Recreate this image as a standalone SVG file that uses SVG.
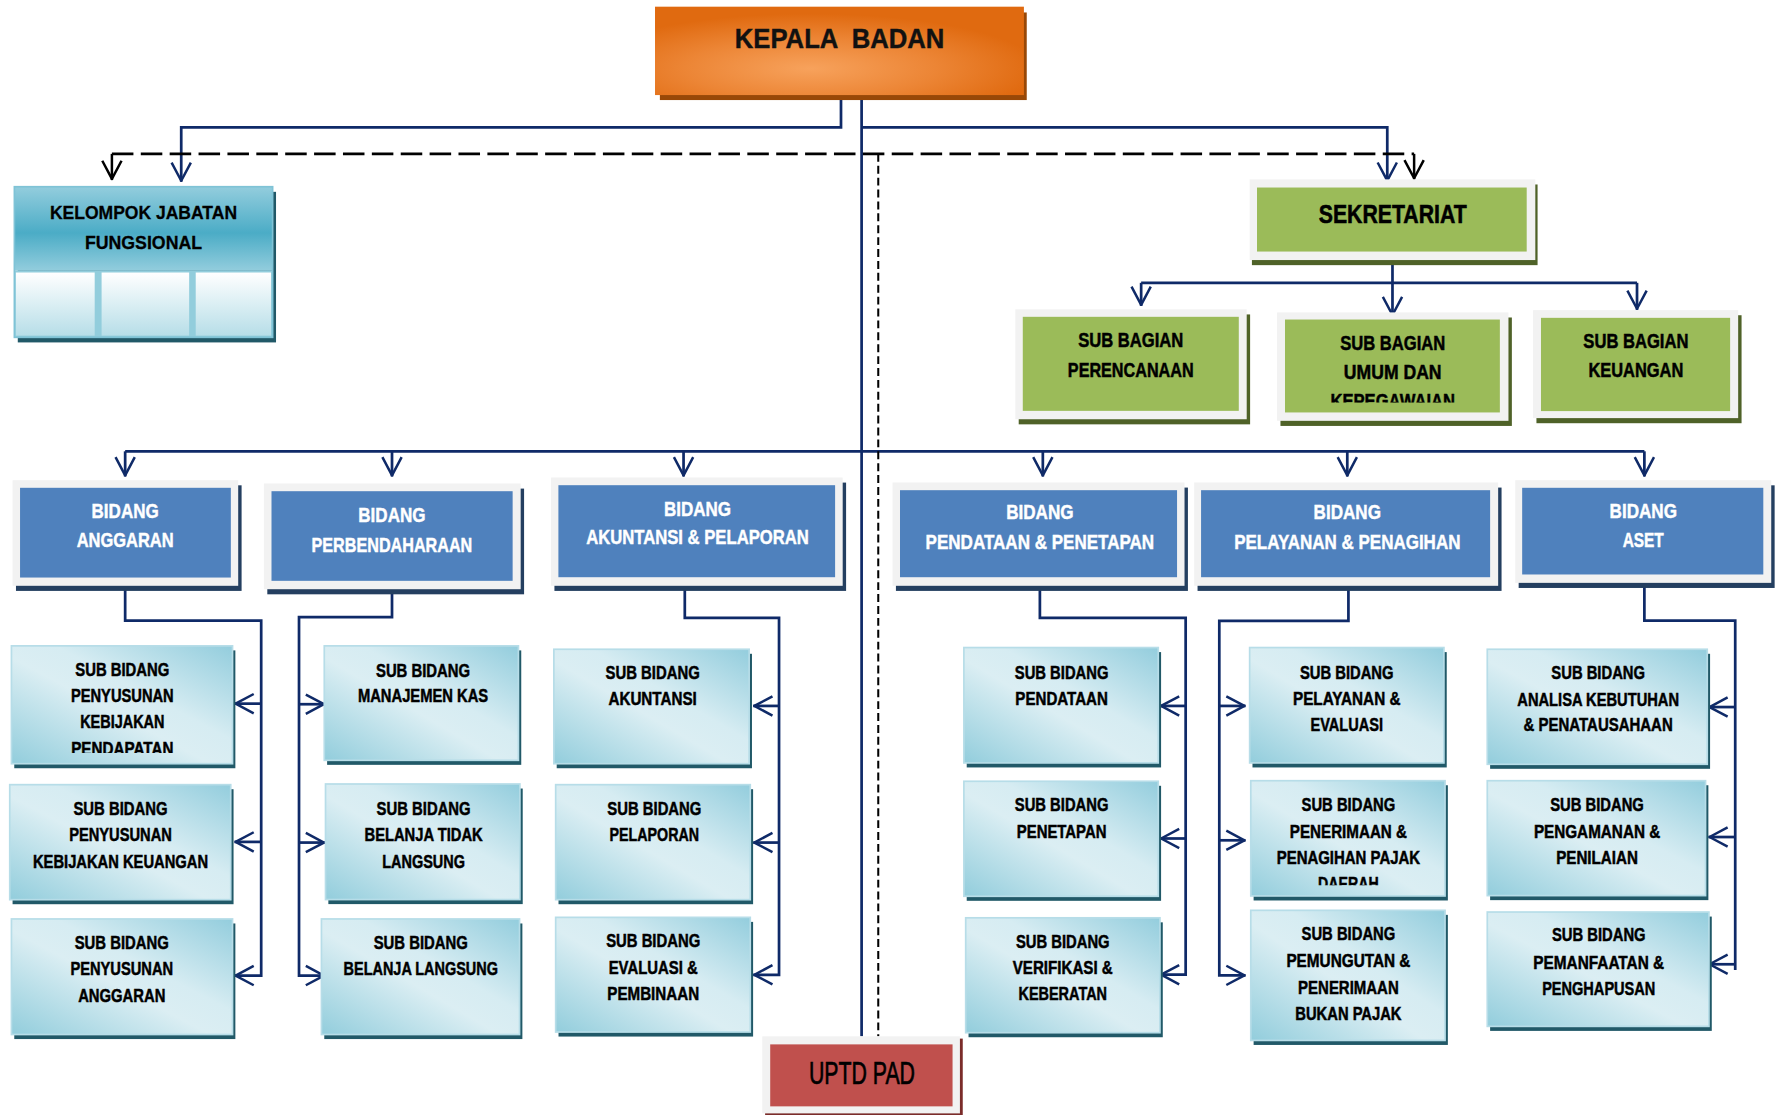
<svg xmlns="http://www.w3.org/2000/svg" width="1776" height="1115" viewBox="0 0 1776 1115">
<style>
.t{font-family:"Liberation Sans",Arial,sans-serif;font-weight:bold;text-anchor:middle;}
.sbt{font-size:16.5px;fill:#000;stroke:#000;stroke-width:0.45px;}
.bdt{font-size:18.4px;fill:#fff;stroke:#fff;stroke-width:0.4px;}
.sgt{font-size:18.4px;fill:#000;stroke:#000;stroke-width:0.45px;}
.cn{fill:none;stroke:#0f2a68;stroke-width:2.4;}
.ar{marker-end:url(#arrN);}
.ak{fill:none;stroke:#000;stroke-width:2.2;marker-end:url(#arrK);}
.dash{fill:none;stroke:#000;stroke-width:2.4;stroke-dasharray:19 6.5;}
.dash2{fill:none;stroke:#000;stroke-width:1.8;stroke-dasharray:7 3.5;}
.sub{fill:url(#subGrad);stroke:#b7dde8;stroke-width:1.5;}
.subsh{fill:#215968;}
.frame{fill:#f2f2f2;}
.bsh{fill:#243f60;}
.blue{fill:#4f81bd;}
.gsh{fill:#4f6228;}
.green{fill:#9bbb59;}
</style>
<defs>
<marker id="arrN" viewBox="-20 -10 22 20" refX="0" refY="0" markerWidth="22" markerHeight="20" markerUnits="userSpaceOnUse" orient="auto">
<path d="M-17,-8.5 L-1,0 L-17,8.5" fill="none" stroke="#0f2a68" stroke-width="2.2" stroke-linejoin="round"/>
</marker>
<marker id="arrK" viewBox="-20 -10 22 20" refX="0" refY="0" markerWidth="22" markerHeight="20" markerUnits="userSpaceOnUse" orient="auto">
<path d="M-17,-8.5 L-1,0 L-17,8.5" fill="none" stroke="#000" stroke-width="2.2" stroke-linejoin="round"/>
</marker>
<linearGradient id="subGrad" x1="0" y1="1" x2="1" y2="0">
<stop offset="0" stop-color="#92cddc"/>
<stop offset="0.45" stop-color="#dbeef3"/>
<stop offset="0.6" stop-color="#d6ecf2"/>
<stop offset="1" stop-color="#93cddd"/>
</linearGradient>
<radialGradient id="orangeGrad" cx="0.42" cy="0.7" r="0.62">
<stop offset="0" stop-color="#f7a25c"/>
<stop offset="0.55" stop-color="#ec8535"/>
<stop offset="1" stop-color="#e06a10"/>
</radialGradient>
<linearGradient id="kjfHead" x1="0" y1="0" x2="0" y2="1">
<stop offset="0" stop-color="#93cddd"/>
<stop offset="0.55" stop-color="#4bacc6"/>
<stop offset="1" stop-color="#93cddd"/>
</linearGradient>
<linearGradient id="cellGrad" x1="0" y1="0" x2="0" y2="1">
<stop offset="0" stop-color="#ffffff"/>
<stop offset="1" stop-color="#b7dee8"/>
</linearGradient>
<clipPath id="clipPendapatan"><rect x="5" y="560" width="205" height="104.5"/></clipPath>
<clipPath id="clipKepeg"><rect x="1130" y="280" width="200" height="75.2"/></clipPath>
<clipPath id="clipDaerah"><rect x="1100" y="680" width="180" height="101.3"/></clipPath>
</defs>
<rect x="0" y="0" width="1776" height="1115" fill="#ffffff"/>
<g transform="scale(1.13265 1.1331)">

<g id="connectors">
<path class="cn ar" d="M742.5,84 V112.5 H160 V160.5"/>
<path class="cn" d="M760.7,84 V914.6"/>
<path class="cn ar" d="M760.7,112.5 H1224.8 V160.4"/>
<path class="cn" d="M110.5,398.3 H1451.8"/>
<path class="cn ar" d="M110.5,398.3 V420.5"/>
<path class="cn ar" d="M346.1,398.3 V420.5"/>
<path class="cn ar" d="M603.5,398.3 V420.5"/>
<path class="cn ar" d="M920.7,398.3 V420.5"/>
<path class="cn ar" d="M1189.5,398.3 V420.5"/>
<path class="cn ar" d="M1451.8,398.3 V420.5"/>
<path class="cn ar" d="M1229.4,229.5 V279"/>
<path class="cn" d="M1007.5,249.6 H1445.3"/>
<path class="cn ar" d="M1007.5,249.6 V270"/>
<path class="cn ar" d="M1445.3,249.6 V273.5"/>
<path class="cn ar" d="M110.5,517 V547.7 H230.6 V861 H207"/>
<path class="cn ar" d="M230.6,621 H207"/>
<path class="cn ar" d="M230.6,743 H207"/>
<path class="cn ar" d="M346.1,520 V544.7 H264 V861 H287"/>
<path class="cn ar" d="M264,621.5 H287"/>
<path class="cn ar" d="M264,743.6 H287"/>
<path class="cn ar" d="M604.6,517 V545.3 H687.8 V860.3 H665"/>
<path class="cn ar" d="M687.8,623 H665"/>
<path class="cn ar" d="M687.8,743.6 H665"/>
<path class="cn ar" d="M918.1,517 V545.3 H1046.8 V860.2 H1024.1"/>
<path class="cn ar" d="M1046.8,623 H1024.1"/>
<path class="cn ar" d="M1046.8,740 H1024.1"/>
<path class="cn ar" d="M1190.5,517 V548 H1076.5 V860.8 H1099.7"/>
<path class="cn ar" d="M1076.5,623 H1099.7"/>
<path class="cn ar" d="M1076.5,741.6 H1099.7"/>
<path class="cn" d="M1451.8,514.4 V547.7 H1532 V856"/>
<path class="cn ar" d="M1532,624 H1508.3"/>
<path class="cn ar" d="M1532,738.7 H1508.3"/>
<path class="cn ar" d="M1532,851 H1508.3"/>
<path class="dash" d="M98.8,135.8 H1248.5"/>
<path class="ak" d="M98.8,135.8 V158.9"/>
<path class="ak" d="M1248.5,135.8 V158.3"/>
<path class="dash2" d="M775.4,135.8 V914.6"/>
</g>

<g id="kepala-badan">
<rect x="582.6" y="11" width="323.9" height="77.3" fill="#984807"/>
<rect x="578.3" y="5.9" width="325.7" height="78" fill="url(#orangeGrad)"/>
<text class="t" x="741.2" y="42.6" font-size="24.7" fill="#111" stroke="#111" stroke-width="0.4" textLength="185" lengthAdjust="spacingAndGlyphs" xml:space="preserve">KEPALA  BADAN</text>
</g>

<g id="kelompok-jabatan-fungsional">
<rect x="15.7" y="169.3" width="228" height="132.9" fill="#215968"/>
<rect x="12.7" y="164.8" width="228" height="74.2" fill="url(#kjfHead)"/>
<rect x="12.7" y="239" width="228" height="58.7" fill="#92cddc"/>
<rect x="14" y="240.5" width="69.6" height="55.7" fill="url(#cellGrad)"/>
<rect x="89.7" y="240.5" width="77.3" height="55.7" fill="url(#cellGrad)"/>
<rect x="172.8" y="240.5" width="66.5" height="55.7" fill="url(#cellGrad)"/>
<rect x="12.7" y="164.8" width="228" height="132.9" fill="none" stroke="#7fc3d6" stroke-width="1.5"/>
<text class="t" x="126.7" y="193.4" font-size="16.5" fill="#000" stroke="#000" stroke-width="0.25" textLength="165.2" lengthAdjust="spacingAndGlyphs">KELOMPOK JABATAN</text>
<text class="t" x="126.7" y="219.8" font-size="16.5" fill="#000" stroke="#000" stroke-width="0.25" textLength="103.4" lengthAdjust="spacingAndGlyphs">FUNGSIONAL</text>
</g>

<g id="sekretariat">
<rect class="gsh" x="1105.3" y="162.8" width="252.2" height="71.2"/>
<rect class="frame" x="1103.3" y="158.3" width="252.2" height="71.2"/>
<rect class="green" x="1109.8" y="165.5" width="238.1" height="56.5"/>
<text class="t" x="1229.6" y="196.5" font-size="23" fill="#000" stroke="#000" stroke-width="0.5" textLength="130.6" lengthAdjust="spacingAndGlyphs">SEKRETARIAT</text>
</g>

<g id="sub-bagian-perencanaan">
<rect class="gsh" x="899.4" y="277.5" width="204.3" height="97"/>
<rect class="frame" x="896.4" y="273" width="204.3" height="97"/>
<rect class="green" x="903" y="279.6" width="190.7" height="83"/>
<text class="t sgt" x="998.3" y="306.2" textLength="92.8" lengthAdjust="spacingAndGlyphs">SUB BAGIAN</text>
<text class="t sgt" x="998.3" y="332.4" textLength="111" lengthAdjust="spacingAndGlyphs">PERENCANAAN</text>
</g>

<g id="sub-bagian-umum-kepegawaian">
<rect class="gsh" x="1130.5" y="280.2" width="204.3" height="95.7"/>
<rect class="frame" x="1127.5" y="275.7" width="204.3" height="95.7"/>
<rect class="green" x="1134.5" y="282" width="189.7" height="82"/>
<text class="t sgt" x="1229.6" y="308.8" textLength="92.8" lengthAdjust="spacingAndGlyphs">SUB BAGIAN</text>
<text class="t sgt" x="1229.6" y="334.1" textLength="86.3" lengthAdjust="spacingAndGlyphs">UMUM DAN</text>
<text class="t sgt" x="1229.6" y="360.5" textLength="110" lengthAdjust="spacingAndGlyphs" clip-path="url(#clipKepeg)">KEPEGAWAIAN</text>
</g>

<g id="sub-bagian-keuangan">
<rect class="gsh" x="1356.5" y="278.2" width="181.1" height="95.3"/>
<rect class="frame" x="1353.5" y="273.7" width="181.1" height="95.3"/>
<rect class="green" x="1360.5" y="280.5" width="167" height="82.3"/>
<text class="t sgt" x="1444.3" y="306.8" textLength="92.8" lengthAdjust="spacingAndGlyphs">SUB BAGIAN</text>
<text class="t sgt" x="1444.3" y="332.6" textLength="83.7" lengthAdjust="spacingAndGlyphs">KEUANGAN</text>
</g>

<g id="bidang-anggaran">
<rect class="bsh" x="14.1" y="428.3" width="199.2" height="93.2"/>
<rect class="frame" x="11.1" y="423.8" width="199.2" height="93.2"/>
<rect class="blue" x="17.7" y="430.5" width="186.1" height="79.2"/>
<text class="t bdt" x="110.5" y="457.6" textLength="59.3" lengthAdjust="spacingAndGlyphs">BIDANG</text>
<text class="t bdt" x="110.5" y="482.6" textLength="85.6" lengthAdjust="spacingAndGlyphs">ANGGARAN</text>
</g>

<g id="bidang-perbendaharaan">
<rect class="bsh" x="236" y="431.2" width="226.7" height="93.3"/>
<rect class="frame" x="233" y="426.7" width="226.7" height="93.3"/>
<rect class="blue" x="239.7" y="433.5" width="212.9" height="79.1"/>
<text class="t bdt" x="346" y="460.4" textLength="59.3" lengthAdjust="spacingAndGlyphs">BIDANG</text>
<text class="t bdt" x="346" y="486.9" textLength="141.9" lengthAdjust="spacingAndGlyphs">PERBENDAHARAAN</text>
</g>

<g id="bidang-akuntansi-pelaporan">
<rect class="bsh" x="489.5" y="425.9" width="257.5" height="95.6"/>
<rect class="frame" x="486.5" y="421.4" width="257.5" height="95.6"/>
<rect class="blue" x="493" y="428.2" width="244.3" height="81.2"/>
<text class="t bdt" x="615.8" y="455.1" textLength="59.3" lengthAdjust="spacingAndGlyphs">BIDANG</text>
<text class="t bdt" x="615.8" y="480.4" textLength="196.6" lengthAdjust="spacingAndGlyphs">AKUNTANSI &amp; PELAPORAN</text>
</g>

<g id="bidang-pendataan-penetapan">
<rect class="bsh" x="791" y="430.3" width="257.8" height="91.2"/>
<rect class="frame" x="788" y="425.8" width="257.8" height="91.2"/>
<rect class="blue" x="794.6" y="432.6" width="244.6" height="76.8"/>
<text class="t bdt" x="918.1" y="458.3" textLength="59.5" lengthAdjust="spacingAndGlyphs">BIDANG</text>
<text class="t bdt" x="918.1" y="484.8" textLength="201.8" lengthAdjust="spacingAndGlyphs">PENDATAAN &amp; PENETAPAN</text>
</g>

<g id="bidang-pelayanan-penagihan">
<rect class="bsh" x="1057.3" y="430.3" width="268.4" height="91.2"/>
<rect class="frame" x="1054.3" y="425.8" width="268.4" height="91.2"/>
<rect class="blue" x="1060.4" y="432.6" width="255.2" height="76.8"/>
<text class="t bdt" x="1189.5" y="458.3" textLength="59.5" lengthAdjust="spacingAndGlyphs">BIDANG</text>
<text class="t bdt" x="1189.5" y="484.8" textLength="199.8" lengthAdjust="spacingAndGlyphs">PELAYANAN &amp; PENAGIHAN</text>
</g>

<g id="bidang-aset">
<rect class="bsh" x="1340.8" y="428.3" width="226" height="90.6"/>
<rect class="frame" x="1337.8" y="423.8" width="226" height="90.6"/>
<rect class="blue" x="1343.9" y="430.5" width="212.9" height="76.5"/>
<text class="t bdt" x="1450.8" y="456.9" textLength="59.5" lengthAdjust="spacingAndGlyphs">BIDANG</text>
<text class="t bdt" x="1450.8" y="482.8" textLength="36.3" lengthAdjust="spacingAndGlyphs">ASET</text>
</g>

<g id="sb-penyusunan-kebijakan-pendapatan">
<rect class="subsh" x="12.6" y="574" width="195.2" height="104"/>
<rect class="sub" x="10.1" y="570" width="195.2" height="104"/>
<text class="t sbt" x="108" y="596.9" textLength="83.1" lengthAdjust="spacingAndGlyphs">SUB BIDANG</text>
<text class="t sbt" x="108" y="619.9" textLength="90.7" lengthAdjust="spacingAndGlyphs">PENYUSUNAN</text>
<text class="t sbt" x="108" y="642.9" textLength="74.5" lengthAdjust="spacingAndGlyphs">KEBIJAKAN</text>
<text class="t sbt" x="108" y="665.9" textLength="90.2" lengthAdjust="spacingAndGlyphs" clip-path="url(#clipPendapatan)">PENDAPATAN</text>
</g>

<g id="sb-penyusunan-kebijakan-keuangan">
<rect class="subsh" x="11.1" y="696.5" width="195.1" height="101.5"/>
<rect class="sub" x="8.6" y="692.5" width="195.1" height="101.5"/>
<text class="t sbt" x="106.4" y="718.9" textLength="83.1" lengthAdjust="spacingAndGlyphs">SUB BIDANG</text>
<text class="t sbt" x="106.4" y="742.5" textLength="90.7" lengthAdjust="spacingAndGlyphs">PENYUSUNAN</text>
<text class="t sbt" x="106.4" y="765.9" textLength="154.6" lengthAdjust="spacingAndGlyphs">KEBIJAKAN KEUANGAN</text>
</g>

<g id="sb-penyusunan-anggaran">
<rect class="subsh" x="12.6" y="815" width="195.2" height="102"/>
<rect class="sub" x="10.1" y="811" width="195.2" height="102"/>
<text class="t sbt" x="107.5" y="837.9" textLength="83.1" lengthAdjust="spacingAndGlyphs">SUB BIDANG</text>
<text class="t sbt" x="107.5" y="860.9" textLength="90.7" lengthAdjust="spacingAndGlyphs">PENYUSUNAN</text>
<text class="t sbt" x="107.5" y="883.9" textLength="77" lengthAdjust="spacingAndGlyphs">ANGGARAN</text>
</g>

<g id="sb-manajemen-kas">
<rect class="subsh" x="288.8" y="574" width="171.4" height="101"/>
<rect class="sub" x="286.3" y="570" width="171.4" height="101"/>
<text class="t sbt" x="373.5" y="597.4" textLength="83.1" lengthAdjust="spacingAndGlyphs">SUB BIDANG</text>
<text class="t sbt" x="373.5" y="619.9" textLength="115" lengthAdjust="spacingAndGlyphs">MANAJEMEN KAS</text>
</g>

<g id="sb-belanja-tidak-langsung">
<rect class="subsh" x="289.9" y="695.9" width="171.6" height="102"/>
<rect class="sub" x="287.4" y="691.9" width="171.6" height="102"/>
<text class="t sbt" x="374" y="718.9" textLength="83.1" lengthAdjust="spacingAndGlyphs">SUB BIDANG</text>
<text class="t sbt" x="374" y="741.9" textLength="104.4" lengthAdjust="spacingAndGlyphs">BELANJA TIDAK</text>
<text class="t sbt" x="374" y="765.9" textLength="73" lengthAdjust="spacingAndGlyphs">LANGSUNG</text>
</g>

<g id="sb-belanja-langsung">
<rect class="subsh" x="286.3" y="815" width="174.9" height="102"/>
<rect class="sub" x="283.8" y="811" width="174.9" height="102"/>
<text class="t sbt" x="371.5" y="837.9" textLength="83.1" lengthAdjust="spacingAndGlyphs">SUB BIDANG</text>
<text class="t sbt" x="371.5" y="860.9" textLength="136.3" lengthAdjust="spacingAndGlyphs">BELANJA LANGSUNG</text>
</g>

<g id="sb-akuntansi">
<rect class="subsh" x="491.5" y="577" width="172.4" height="101"/>
<rect class="sub" x="489" y="573" width="172.4" height="101"/>
<text class="t sbt" x="576.2" y="599.5" textLength="83.1" lengthAdjust="spacingAndGlyphs">SUB BIDANG</text>
<text class="t sbt" x="576.2" y="622.4" textLength="78" lengthAdjust="spacingAndGlyphs">AKUNTANSI</text>
</g>

<g id="sb-pelaporan">
<rect class="subsh" x="493.1" y="696.5" width="171.8" height="101.5"/>
<rect class="sub" x="490.6" y="692.5" width="171.8" height="101.5"/>
<text class="t sbt" x="577.7" y="718.9" textLength="83.1" lengthAdjust="spacingAndGlyphs">SUB BIDANG</text>
<text class="t sbt" x="577.7" y="742.5" textLength="79" lengthAdjust="spacingAndGlyphs">PELAPORAN</text>
</g>

<g id="sb-evaluasi-pembinaan">
<rect class="subsh" x="493.1" y="813.6" width="171.8" height="101.2"/>
<rect class="sub" x="490.6" y="809.6" width="171.8" height="101.2"/>
<text class="t sbt" x="576.7" y="835.8" textLength="83.1" lengthAdjust="spacingAndGlyphs">SUB BIDANG</text>
<text class="t sbt" x="576.7" y="859.3" textLength="78.6" lengthAdjust="spacingAndGlyphs">EVALUASI &amp;</text>
<text class="t sbt" x="576.7" y="882.9" textLength="81.1" lengthAdjust="spacingAndGlyphs">PEMBINAAN</text>
</g>

<g id="sb-pendataan">
<rect class="subsh" x="853.5" y="575.5" width="171.6" height="101.8"/>
<rect class="sub" x="851" y="571.5" width="171.6" height="101.8"/>
<text class="t sbt" x="937.3" y="598.9" textLength="82.7" lengthAdjust="spacingAndGlyphs">SUB BIDANG</text>
<text class="t sbt" x="937.3" y="621.9" textLength="81.7" lengthAdjust="spacingAndGlyphs">PENDATAAN</text>
</g>

<g id="sb-penetapan">
<rect class="subsh" x="853.5" y="693.5" width="171.6" height="101.5"/>
<rect class="sub" x="851" y="689.5" width="171.6" height="101.5"/>
<text class="t sbt" x="937.3" y="715.9" textLength="82.7" lengthAdjust="spacingAndGlyphs">SUB BIDANG</text>
<text class="t sbt" x="937.3" y="739.3" textLength="79.2" lengthAdjust="spacingAndGlyphs">PENETAPAN</text>
</g>

<g id="sb-verifikasi-keberatan">
<rect class="subsh" x="855.1" y="814" width="171.5" height="101.4"/>
<rect class="sub" x="852.6" y="810" width="171.5" height="101.4"/>
<text class="t sbt" x="938.3" y="836.4" textLength="82.7" lengthAdjust="spacingAndGlyphs">SUB BIDANG</text>
<text class="t sbt" x="938.3" y="859.3" textLength="88.3" lengthAdjust="spacingAndGlyphs">VERIFIKASI &amp;</text>
<text class="t sbt" x="938.3" y="882.9" textLength="78.2" lengthAdjust="spacingAndGlyphs">KEBERATAN</text>
</g>

<g id="sb-pelayanan-evaluasi">
<rect class="subsh" x="1105.8" y="575.5" width="171.5" height="101.8"/>
<rect class="sub" x="1103.3" y="571.5" width="171.5" height="101.8"/>
<text class="t sbt" x="1189" y="598.9" textLength="82.7" lengthAdjust="spacingAndGlyphs">SUB BIDANG</text>
<text class="t sbt" x="1189" y="621.9" textLength="94.8" lengthAdjust="spacingAndGlyphs">PELAYANAN &amp;</text>
<text class="t sbt" x="1189" y="644.9" textLength="64" lengthAdjust="spacingAndGlyphs">EVALUASI</text>
</g>

<g id="sb-penerimaan-penagihan-pajak-daerah">
<rect class="subsh" x="1106.8" y="693" width="171.5" height="101.7"/>
<rect class="sub" x="1104.3" y="689" width="171.5" height="101.7"/>
<text class="t sbt" x="1190.5" y="715.9" textLength="82.7" lengthAdjust="spacingAndGlyphs">SUB BIDANG</text>
<text class="t sbt" x="1190.5" y="739.3" textLength="103.4" lengthAdjust="spacingAndGlyphs">PENERIMAAN &amp;</text>
<text class="t sbt" x="1190.5" y="762.2" textLength="126.6" lengthAdjust="spacingAndGlyphs">PENAGIHAN PAJAK</text>
<text class="t sbt" x="1190.5" y="785.8" textLength="53.5" lengthAdjust="spacingAndGlyphs" clip-path="url(#clipDaerah)">DAERAH</text>
</g>

<g id="sb-pemungutan-penerimaan-bukan-pajak">
<rect class="subsh" x="1106.8" y="807.4" width="171.5" height="114.8"/>
<rect class="sub" x="1104.3" y="803.4" width="171.5" height="114.8"/>
<text class="t sbt" x="1190.5" y="829.9" textLength="82.7" lengthAdjust="spacingAndGlyphs">SUB BIDANG</text>
<text class="t sbt" x="1190.5" y="853.5" textLength="109.5" lengthAdjust="spacingAndGlyphs">PEMUNGUTAN &amp;</text>
<text class="t sbt" x="1190.5" y="876.9" textLength="88.8" lengthAdjust="spacingAndGlyphs">PENERIMAAN</text>
<text class="t sbt" x="1190.5" y="899.9" textLength="93.8" lengthAdjust="spacingAndGlyphs">BUKAN PAJAK</text>
</g>

<g id="sb-analisa-kebutuhan">
<rect class="subsh" x="1315.6" y="577" width="194.2" height="101.5"/>
<rect class="sub" x="1313.1" y="573" width="194.2" height="101.5"/>
<text class="t sbt" x="1411" y="599.5" textLength="82.7" lengthAdjust="spacingAndGlyphs">SUB BIDANG</text>
<text class="t sbt" x="1411" y="622.9" textLength="142.8" lengthAdjust="spacingAndGlyphs">ANALISA KEBUTUHAN</text>
<text class="t sbt" x="1411" y="645.4" textLength="131.7" lengthAdjust="spacingAndGlyphs">&amp; PENATAUSAHAAN</text>
</g>

<g id="sb-pengamanan-penilaian">
<rect class="subsh" x="1315.6" y="693" width="192.7" height="101.4"/>
<rect class="sub" x="1313.1" y="689" width="192.7" height="101.4"/>
<text class="t sbt" x="1410" y="715.9" textLength="82.7" lengthAdjust="spacingAndGlyphs">SUB BIDANG</text>
<text class="t sbt" x="1410" y="739.3" textLength="111.5" lengthAdjust="spacingAndGlyphs">PENGAMANAN &amp;</text>
<text class="t sbt" x="1410" y="762.2" textLength="72.1" lengthAdjust="spacingAndGlyphs">PENILAIAN</text>
</g>

<g id="sb-pemanfaatan-penghapusan">
<rect class="subsh" x="1315.6" y="808.9" width="195.7" height="100.9"/>
<rect class="sub" x="1313.1" y="804.9" width="195.7" height="100.9"/>
<text class="t sbt" x="1411.5" y="830.8" textLength="82.7" lengthAdjust="spacingAndGlyphs">SUB BIDANG</text>
<text class="t sbt" x="1411.5" y="854.9" textLength="115.5" lengthAdjust="spacingAndGlyphs">PEMANFAATAN &amp;</text>
<text class="t sbt" x="1411.5" y="877.9" textLength="99.9" lengthAdjust="spacingAndGlyphs">PENGHAPUSAN</text>
</g>

<g id="uptd-pad">
<rect x="675.5" y="916.6" width="174.5" height="68" fill="#7b2c2a"/>
<rect class="frame" x="673" y="914.6" width="174.5" height="68"/>
<rect x="680" y="921.7" width="161" height="54.7" fill="#c0504d"/>
<text x="761" y="956.8" font-family="'Liberation Sans',Arial,sans-serif" font-size="27.5" text-anchor="middle" fill="#000" stroke="#000" stroke-width="0.6" textLength="93.6" lengthAdjust="spacingAndGlyphs">UPTD PAD</text>
</g>

</g>
</svg>
